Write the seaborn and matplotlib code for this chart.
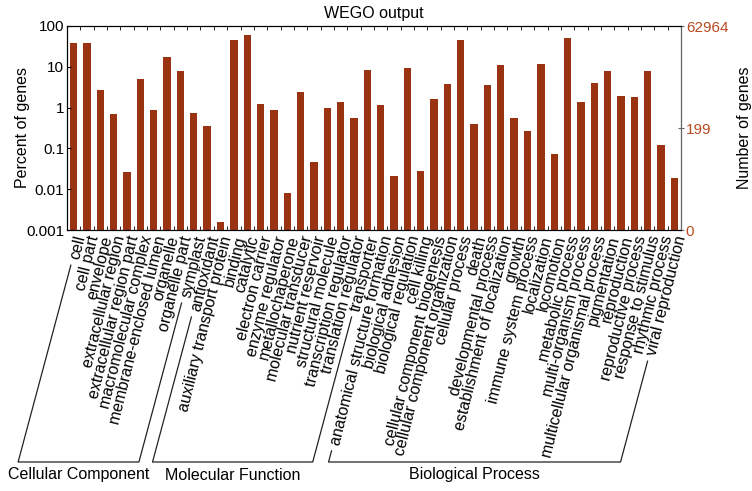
import numpy as np
import pandas as pd
import matplotlib
matplotlib.use("Agg")
import matplotlib.pyplot as plt
import seaborn as sns
from matplotlib.lines import Line2D
from matplotlib.ticker import FixedLocator, NullFormatter

# GO terms per ontology
cc_terms = ["cell", "cell part", "envelope", "extracellular region",
            "extracellular region part", "macromolecular complex",
            "membrane-enclosed lumen", "organelle", "organelle part", "symplast"]
mf_terms = ["antioxidant", "auxiliary transport protein", "binding", "catalytic",
            "electron carrier", "enzyme regulator", "metallochaperone",
            "molecular transducer", "nutrient reservoir", "structural molecule",
            "transcription regulator", "translation regulator", "transporter"]
bp_terms = ["anatomical structure formation", "biological adhesion",
            "biological regulation", "cell killing", "cellular component biogenesis",
            "cellular component organization", "cellular process", "death",
            "developmental process", "establishment of localization", "growth",
            "immune system process", "localization", "locomotion", "metabolic process",
            "multi-organism process", "multicellular organismal process", "pigmentation",
            "reproduction", "reproductive process", "response to stimulus",
            "rhythmic process", "viral reproduction"]

# percent of genes
cc_pct = [38, 38, 2.75, 0.71, 0.026, 5.0, 0.87, 17.8, 7.9, 0.72]
mf_pct = [0.36, 0.0016, 45, 61, 1.26, 0.85, 0.0079, 2.36, 0.047, 0.96, 1.4, 0.57, 8.3]
bp_pct = [1.14, 0.021, 9.6, 0.028, 1.63, 3.7, 46, 0.39, 3.6, 11.2, 0.56, 0.27,
          11.4, 0.073, 51, 1.4, 4.1, 8.0, 1.9, 1.8, 7.7, 0.12, 0.019]

total_genes = 62964
right_ticks = [0, 199, 62964]
group_names = ["Cellular Component", "Molecular Function", "Biological Process"]

terms = cc_terms + mf_terms + bp_terms
pct = cc_pct + mf_pct + bp_pct
df = pd.DataFrame({"term": terms, "pct": pct})

bar_color = "#993311"
W, H = 752, 491
fig = plt.figure(figsize=(W / 100, H / 100), dpi=100)
plt.rcParams["font.family"] = ["Liberation Sans", "DejaVu Sans"]
ax = fig.add_axes([67 / W, 1 - 230 / H, (681 - 67) / W, (230 - 26) / H])

sns.barplot(data=df, x="term", y="pct", color=bar_color, saturation=1,
            width=0.55, ax=ax)
ax.set_yscale("log")
ax.set_ylim(0.001, 100)
ax.set_xlim(-0.5, len(terms) - 0.5)
ax.set_yticks([0.001, 0.01, 0.1, 1, 10, 100])
ax.set_yticklabels(["0.001", "0.01", "0.1", "1", "10", "100"], fontsize=11)
ax.yaxis.set_minor_locator(FixedLocator([]))
ax.tick_params(axis="y", direction="in", length=3, pad=2)
ax.set_ylabel("Percent of genes", fontsize=11.5)
ax.yaxis.set_label_coords((30 - 67) / 614, 0.5)
ax.set_xlabel("")
ax.set_title("WEGO output", fontsize=11.5, pad=6)

# tick labels at bars, small ticks between bars top and bottom
ax.set_xticks(range(len(terms)))
ax.set_xticklabels(terms, rotation=76, ha="right", va="top",
                   rotation_mode="anchor", fontsize=11.5)
ax.tick_params(axis="x", which="major", length=0, pad=3)
ax.xaxis.set_minor_locator(FixedLocator(np.arange(0.5, len(terms) - 1, 1)))
ax.tick_params(axis="x", which="minor", direction="in", length=3,
               top=True, bottom=True)
for s in ax.spines.values():
    s.set_linewidth(0.8)

# right axis: number of genes
ax2 = ax.twinx()
ax2.set_yscale("log")
ax2.set_ylim(0.001, 100)
pos = [0.001] + [v / total_genes * 100 for v in right_ticks[1:]]
ax2.set_yticks(pos)
ax2.set_yticklabels([str(v) for v in right_ticks], color="#b84a22", fontsize=11)
ax2.yaxis.set_minor_locator(FixedLocator([]))
ax2.yaxis.set_minor_formatter(NullFormatter())
ax2.tick_params(axis="y", direction="inout", length=5, pad=1, color="#666666")
ax2.spines["right"].set_color("#666666")
ax2.set_ylabel("Number of genes", fontsize=11.5)
ax2.yaxis.set_label_coords((737 - 67) / 614, 0.5)

# ontology brackets under the labels
fig.canvas.draw()
renderer = fig.canvas.get_renderer()
labels = ax.get_xticklabels()
tan = np.tan(np.radians(75))
y_bot = H - 462
sizes = [len(cc_terms), len(mf_terms), len(bp_terms)]
start = 0
for name, n in zip(group_names, sizes):
    b0 = labels[start].get_window_extent(renderer)
    b1 = labels[start + n - 1].get_window_extent(renderer)
    xs0, ys0 = b0.x0 + 3, b0.y0 - 4
    xs1, ys1 = b1.x0 + 3, b1.y0 - 4
    xb0 = xs0 - (ys0 - y_bot) / tan
    xb1 = xs1 - (ys1 - y_bot) / tan
    xs = np.array([xs0, xb0, xb1, xs1]) / W
    ys = np.array([ys0, y_bot, y_bot, ys1]) / H
    fig.add_artist(Line2D(xs, ys, color="#222222", lw=0.9,
                          transform=fig.transFigure))
    fig.text((xb0 + xb1) / 2 / W, (H - 475) / H, name, ha="center",
             va="center", fontsize=11.5)
    start += n

fig.savefig("out.png", dpi=100)
